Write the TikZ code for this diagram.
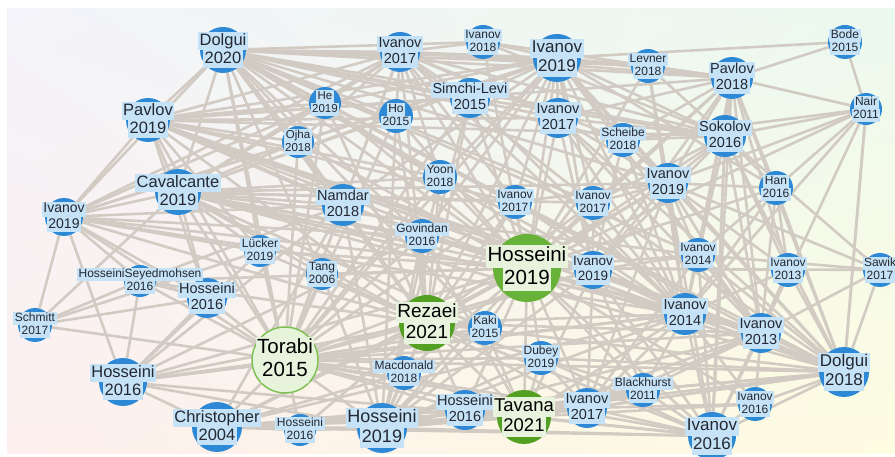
\documentclass[tikz,border=0pt]{standalone}
\usepackage{fontspec}
\setmainfont{Liberation Sans}
\usetikzlibrary{calc,shadings}

\definecolor{edgecol}{RGB}{210,203,195}
\definecolor{dotblue}{RGB}{45,137,214}
\definecolor{labblue}{RGB}{198,226,246}
\definecolor{dotgreen}{RGB}{84,160,34}
\definecolor{dotlgreen}{RGB}{104,178,58}
\definecolor{labgreen}{RGB}{232,243,222}
\definecolor{palefill}{RGB}{230,244,218}
\definecolor{paleedge}{RGB}{128,192,84}
\definecolor{txtdark}{RGB}{35,40,50}
\definecolor{bgul}{RGB}{244,244,250}
\definecolor{bgur}{RGB}{236,249,238}
\definecolor{bgll}{RGB}{253,239,238}
\definecolor{bglr}{RGB}{254,252,225}

\pgfdeclarelayer{back}
\pgfdeclarelayer{links}
\pgfsetlayers{back,links,main}

\tikzset{
  edge/.style={draw=edgecol, line width=2.6pt},
  bdot/.style={circle, fill=dotblue, inner sep=0pt},
  gdot/.style={circle, fill=dotgreen, inner sep=0pt},
  ldot/.style={circle, fill=dotlgreen, inner sep=0pt},
  pdot/.style={circle, fill=palefill, draw=paleedge, line width=1.5pt, inner sep=0pt},
  blab/.style={fill=labblue, text=txtdark, inner xsep=1.5pt, inner ysep=0pt},
  glab/.style={fill=labgreen, text=black, inner xsep=1.5pt, inner ysep=0pt},
  llab/.style={glab},
  plab/.style={glab},
}

% strut giving every label line the same box height
\newcommand\lstrut{\vrule width0pt height.8em depth.3em\relax}

% #1 name, #2 x, #3 y, #4 radius, #5 font size, #6 author, #7 year, #8 kind (b/g/l/p)
\newcommand\pub[8]{%
  \node[#8dot, minimum size={2*#4pt}] (#1) at (#2,#3) {};
  \node[#8lab, font=\fontsize{#5pt}{#5pt}\selectfont] (#1-a)
    at ([yshift=0.55*#5pt]#1.center) {\lstrut #6};
  \node[#8lab, font=\fontsize{#5pt}{#5pt}\selectfont] (#1-b)
    at ([yshift=-0.55*#5pt]#1.center) {\lstrut #7};
}

\begin{document}
\begin{tikzpicture}[x=1pt,y=-1pt]
\useasboundingbox (0,0) rectangle (895,457);

\begin{pgfonlayer}{back}
  \fill[white] (0,0) rectangle (895,457);
  \shade[upper left=bgul, upper right=bgur, lower left=bgll, lower right=bglr]
    (7,9) rectangle (895,453);
\end{pgfonlayer}

% papers
\pub{d20}{223}{50}{23}{16.5}{Dolgui}{2020}{b}
\pub{pv19}{148}{120}{22}{16.5}{Pavlov}{2019}{b}
\pub{cav}{178}{192}{23}{16.5}{Cavalcante}{2019}{b}
\pub{iv19a}{64}{217}{19}{14}{Ivanov}{2019}{b}
\pub{iv17a}{400}{52}{20}{14.5}{Ivanov}{2017}{b}
\pub{iv18}{483}{42}{17}{12}{Ivanov}{2018}{b}
\pub{iv19b}{557}{58}{24}{17}{Ivanov}{2019}{b}
\pub{he}{325}{103}{16}{11.5}{He}{2019}{b}
\pub{ho}{396}{116}{17}{12}{Ho}{2015}{b}
\pub{sl}{470}{98}{20}{14.5}{Simchi-Levi}{2015}{b}
\pub{iv17b}{558}{118}{20}{14.5}{Ivanov}{2017}{b}
\pub{oj}{298}{142}{16}{11.5}{Ojha}{2018}{b}
\pub{yo}{440}{177}{17}{12}{Yoon}{2018}{b}
\pub{na}{343}{205}{21}{14.5}{Namdar}{2018}{b}
\pub{iv17c}{515}{202}{17}{12}{Ivanov}{2017}{b}
\pub{iv17d}{593}{203}{17}{12}{Ivanov}{2017}{b}
\pub{le}{648}{66}{17}{12}{Levner}{2018}{b}
\pub{pv18}{732}{78}{21}{14.5}{Pavlov}{2018}{b}
\pub{bo}{845}{42}{17}{12}{Bode}{2015}{b}
\pub{nr}{866}{109}{16}{12}{Nair}{2011}{b}
\pub{so}{725}{136}{21}{14.5}{Sokolov}{2016}{b}
\pub{sc}{623}{140}{17}{12}{Scheibe}{2018}{b}
\pub{iv19c}{668}{183}{20}{14.5}{Ivanov}{2019}{b}
\pub{ha}{776}{188}{17}{12}{Han}{2016}{b}
\pub{go}{422}{236}{17}{12}{Govindan}{2016}{b}
\pub{lu}{260}{251}{16}{12}{Lücker}{2019}{b}
\pub{h16a}{207}{298}{20}{14.5}{Hosseini}{2016}{b}
\pub{hsm}{140}{281}{16}{12}{HosseiniSeyedmohsen}{2016}{b}
\pub{sch}{35}{325}{17}{12}{Schmitt}{2017}{b}
\pub{ta}{322}{274}{16}{12}{Tang}{2006}{b}
\pub{h16b}{123}{382}{24}{16.5}{Hosseini}{2016}{b}
\pub{ch}{217}{427}{25}{16.5}{Christopher}{2004}{b}
\pub{h16c}{300}{430}{16}{12}{Hosseini}{2016}{b}
\pub{h19b}{382}{428}{25}{18}{Hosseini}{2019}{b}
\pub{mac}{404}{373}{17}{12}{Macdonald}{2018}{b}
\pub{ka}{485}{328}{17}{12}{Kaki}{2015}{b}
\pub{du}{541}{358}{17}{12}{Dubey}{2019}{b}
\pub{h16d}{465}{410}{20}{14.5}{Hosseini}{2016}{b}
\pub{iv17e}{587}{408}{20}{14.5}{Ivanov}{2017}{b}
\pub{bl}{643}{390}{17}{12}{Blackhurst}{2011}{b}
\pub{iv16a}{755}{404}{17}{12}{Ivanov}{2016}{b}
\pub{iv16b}{712}{436}{24}{17}{Ivanov}{2016}{b}
\pub{d18}{844}{372}{25}{17}{Dolgui}{2018}{b}
\pub{iv13a}{761}{333}{20}{14.5}{Ivanov}{2013}{b}
\pub{iv14a}{685}{314}{21}{14.5}{Ivanov}{2014}{b}
\pub{iv14b}{698}{255}{17}{12}{Ivanov}{2014}{b}
\pub{iv13b}{788}{270}{17}{12}{Ivanov}{2013}{b}
\pub{saw}{880}{270}{17}{12}{Sawik}{2017}{b}
\pub{iv19d}{593}{270}{19}{13.5}{Ivanov}{2019}{b}
\pub{h19g}{527}{268}{34}{20.5}{Hosseini}{2019}{l}
\pub{rez}{427}{323}{28}{19}{Rezaei}{2021}{g}
\pub{tor}{285}{360}{33}{20.5}{Torabi}{2015}{p}
\pub{tav}{524}{417}{27}{18.5}{Tavana}{2021}{g}

% citation links
\begin{pgfonlayer}{links}
\foreach \src/\nbrs in {d20/{pv19,cav,iv19a,iv17a,iv18,iv19b,iv17b,sl,he,ho,oj,na,yo,iv17c,iv17d,le,pv18,so,sc,iv19c,go,h19g,iv19d,iv14b,iv14a,iv13a,d18,rez,tor,ka,lu,ta},
  pv19/{iv19a,cav,iv17a,iv19b,he,oj,na,sl,iv17b,yo,h19g,iv19d,iv14a,iv13a,d18,tor,rez,iv17c,pv18,so,go,lu,h16a},
  cav/{iv19a,iv17a,iv19b,oj,na,he,ho,yo,go,iv17c,iv17d,h19g,iv19d,iv14a,iv14b,iv13a,d18,rez,tor,lu,h16a,ta,ka,iv19c,sch},
  iv19a/{sch,hsm,h16a,na,h19g,tor,iv17a,iv19b,lu,iv14a,rez,go,oj,he,h16b},
  sch/{hsm,h16a,lu,tor},
  hsm/{h16b,h16a,tor,h19g,rez,na},
  h16b/{tor,ch,h16a,h19g,rez,h19b,na,lu,iv14a,tav,go},
  ch/{tor,h19b,h16c,h19g,rez,tav,iv17e,iv14a,d18,iv16b,mac,h16d,na},
  h16c/{h19b,tor,rez},
  h19b/{tor,rez,h19g,tav,h16d,mac,iv17e,bl,iv16b,iv14a,iv13a,d18,na,go,ka,du,yo,iv17c,iv19d,ta,ho,sl},
  tor/{rez,h19g,tav,h16d,mac,na,go,lu,ta,iv19d,iv14a,iv13a,d18,iv17c,yo,ho,he,oj,iv17a,iv19b,sl,iv17e,iv16b,ka,du,h16a},
  rez/{h19g,tav,ka,mac,du,h16d,iv17e,iv19d,iv14a,iv13a,d18,iv16b,bl,go,na,yo,ta,iv17c,iv17d,iv19c,iv17a,iv19b,sl,ho,he,oj,lu},
  h19g/{tav,iv19d,iv14a,iv14b,iv13a,iv13b,d18,iv16b,iv16a,iv17e,bl,du,ka,h16d,mac,go,yo,na,iv17c,iv17d,iv19c,sc,so,pv18,le,iv17b,iv19b,iv18,sl,ho,he,oj,iv17a,ha,saw,nr,ta,lu},
  tav/{iv17e,iv16b,iv14a,iv13a,d18,du,ka,h16d,bl,iv19d,iv16a,mac,go},
  iv19d/{iv14a,iv13a,d18,iv14b,iv19c,so,pv18,iv17d,sc,iv17b,iv19b,bl,iv17e,iv16b},
  iv14a/{iv13a,d18,iv16b,iv16a,bl,iv17e,iv14b,iv13b,iv19c,so,pv18,iv17b,iv19b,iv17a,sl,iv17d,iv17c,sc,le,ha},
  iv13a/{d18,iv16b,iv16a,iv13b,iv14b,iv19c,so,pv18,iv17b,iv19b,saw,ha,nr,bl,iv17e},
  d18/{iv16b,iv16a,iv13b,iv14b,saw,nr,ha,so,pv18,iv19c,iv17b,iv19b,iv17e,bl,iv17d,du},
  iv16b/{iv16a,iv17e,bl,iv14b,iv13b,iv19c,so,pv18,du,h16d},
  iv17e/{bl,iv16a,du,h16d,iv14b,iv19c},
  pv18/{bo,nr,so,le,iv19b,iv17b,sc,iv19c,ha,iv18,iv17a,iv17d,iv14b,iv13b},
  bo/{nr,iv19b},
  nr/{so,ha,iv19c,d18,iv14a,sc},
  so/{iv19b,iv17b,sc,iv19c,le,iv17d,ha,iv14b,iv13b,iv17a,iv18,sl},
  iv19c/{iv17b,iv19b,sc,le,iv17d,iv14b,iv13b,ha,iv17c},
  ha/{iv14b,iv13b,iv19b},
  saw/{iv13b,iv14b,iv19c,so},
  iv19b/{iv18,iv17a,sl,iv17b,le,sc,iv17c,iv17d,ho,he,na,yo,go,oj},
  iv17a/{iv18,sl,ho,he,iv17b,le,na,yo,oj,sc,iv17c,iv17d}}{%
  \foreach \dst in \nbrs { \draw[edge] (\src) -- (\dst); }
}
\end{pgfonlayer}
\end{tikzpicture}
\end{document}
